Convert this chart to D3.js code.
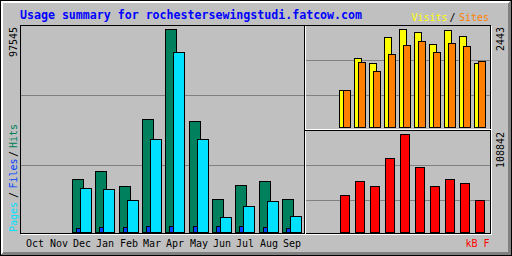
<!DOCTYPE html>
<meta charset="utf-8">
<head>
    <script type="text/javascript" src="https://cdn.jsdelivr.net/npm/d3@7/dist/d3.min.js"></script>
    <style>
        body { margin: 0; background: #c0c0c0; }
        svg { display: block; }
        text { font-family: "DejaVu Sans Mono", monospace; font-size: 10px; }
    </style>
    <title>Usage summary</title>
</head>
<body>
<script>
    // monthly data, Oct .. Sep
    var months = ["Oct", "Nov", "Dec", "Jan", "Feb", "Mar", "Apr", "May", "Jun", "Jul", "Aug", "Sep"];
    var hits   = [0, 0, 25320, 29170, 21960, 54150, 97545, 53190, 15710, 22440, 24360, 15710];
    var files  = [0, 0, 1900, 2400, 2400, 2880, 2880, 2880, 2880, 2880, 2400, 1900];
    var pages  = [0, 0, 21000, 20520, 15230, 44540, 86350, 44540, 7060, 12350, 14750, 7540];
    var visits = [0, 0, 915, 1713, 1588, 2236, 2443, 2361, 2062, 2411, 2261, 1588];
    var sites  = [0, 0, 915, 1613, 1389, 1812, 2037, 2136, 1862, 2087, 2012, 1638];
    var kbytes = [0, 0, 40760, 56310, 50760, 81850, 108842, 71860, 50760, 58530, 54090, 35210];

    var W = 512, H = 256;
    var grey = "#c0c0c0", dkgrey = "#808080";
    var hitColor = "#00805c", fileColor = "#0040ff", pageColor = "#00e0ff";
    var visitColor = "#ffff00", siteColor = "#ff8000", kbColor = "#ff0000";

    var svg = d3.select("body").append("svg")
        .attr("width", W)
        .attr("height", H)
        .attr("shape-rendering", "crispEdges");

    svg.append("rect").attr("width", W).attr("height", H).attr("fill", grey);

    function hline(x1, x2, row, color) {
        svg.append("line").attr("x1", x1).attr("x2", x2 + 1)
            .attr("y1", row + 0.5).attr("y2", row + 0.5).attr("stroke", color);
    }
    function vline(col, y1, y2, color) {
        svg.append("line").attr("x1", col + 0.5).attr("x2", col + 0.5)
            .attr("y1", y1).attr("y2", y2 + 1).attr("stroke", color);
    }

    // outer shadow border
    [1, 2].forEach(i => { hline(i, W - 1 - i, i, "white"); vline(i, i, H - 1 - i, "white"); });
    [1, 2, 3].forEach(i => { hline(i, W - 1 - i, H - 1 - i, dkgrey); vline(W - 1 - i, i, H - 1 - i, dkgrey); });
    svg.append("rect").attr("x", 0.5).attr("y", 0.5).attr("width", W - 1).attr("height", H - 1)
        .attr("fill", "none").attr("stroke", "black");

    // inner box
    hline(20, 490, 25, "black");
    vline(20, 25, 233, "black");
    hline(20, 490, 233, "black");
    vline(490, 25, 233, "black");
    hline(21, 491, 234, "white");
    vline(491, 26, 234, "white");

    // section lines
    vline(304, 25, 233, "black");
    vline(305, 26, 233, "white");
    hline(305, 490, 129, "white");
    hline(305, 490, 130, "black");

    // index lines
    var step = Math.floor(210 / 3);
    d3.range(1, 3).forEach(i => hline(21, 303, 25 + i * step, dkgrey));
    step = Math.floor(105 / 3);
    d3.range(1, 3).forEach(i => hline(306, 489, 25 + i * step, dkgrey));
    d3.range(1, 3).forEach(i => hline(306, 489, 130 + i * step, dkgrey));

    // scales
    var xL = d3.scaleBand().domain(months).range([25.67, 25.67 + 12 * 23.333]);
    var xR = d3.scaleBand().domain(months).range([309, 309 + 12 * 15]);
    var yL = d3.scaleLinear().domain([0, d3.max(hits)]).range([232, 29]);
    var yV = d3.scaleLinear().domain([0, d3.max(visits)]).range([127, 29]);
    var yK = d3.scaleLinear().domain([0, d3.max(kbytes)]).range([232, 134]);

    function bars(values, xf, offset, w, y, base, color) {
        svg.append("g").selectAll("rect")
            .data(months.map((m, i) => ({m: m, v: values[i]})).filter(d => d.v > 0))
            .enter().append("rect")
            .attr("x", d => Math.floor(xf(d.m)) + offset + 0.5)
            .attr("y", d => Math.round(y(d.v)) + 0.5)
            .attr("width", w)
            .attr("height", d => base - Math.round(y(d.v)))
            .attr("fill", color)
            .attr("stroke", "black");
    }

    bars(hits, xL, 0, 11, yL, 232, hitColor);
    bars(files, xL, 4, 11, yL, 232, fileColor);
    bars(pages, xL, 8, 11, yL, 232, pageColor);
    bars(visits, xR, 0, 7, yV, 127, visitColor);
    bars(sites, xR, 4, 7, yV, 127, siteColor);
    bars(kbytes, xR, 1, 9, yK, 232, kbColor);

    // x axis month labels
    svg.append("g").selectAll("text")
        .data(months).enter().append("text")
        .attr("x", d => Math.floor(xL(d)) + 1)
        .attr("y", 247)
        .attr("fill", "black")
        .text(d => d);

    // title
    svg.append("text")
        .attr("x", 20).attr("y", 19.3)
        .attr("fill", "#0000ff")
        .style("font-size", "11.5px").style("font-weight", "bold")
        .attr("textLength", 342).attr("lengthAdjust", "spacingAndGlyphs")
        .text("Usage summary for rochestersewingstudi.fatcow.com");

    // visits / sites legend
    svg.append("text").attr("x", 411.5).attr("y", 20.5).attr("fill", visitColor).text("Visits");
    svg.append("text").attr("x", 449.5).attr("y", 20.5).attr("fill", "black").text("/");
    svg.append("text").attr("x", 459).attr("y", 20.5).attr("fill", siteColor).text("Sites");

    // kB label
    svg.append("text").attr("x", 465.5).attr("y", 247).attr("fill", kbColor).text("kB F");

    // rotated labels
    function upText(x, y, str, color) {
        svg.append("text")
            .attr("transform", "translate(" + x + "," + y + ") rotate(-90)")
            .attr("fill", color)
            .text(str);
    }
    upText(17, 57, d3.max(hits), "black");
    upText(504, 51, d3.max(visits), "black");
    upText(504, 168, d3.max(kbytes), "black");
    upText(17, 232, "Pages", pageColor);
    upText(17, 198, "/", "black");
    upText(17, 188.5, "Files", fileColor);
    upText(17, 157, "/", "black");
    upText(17, 148, "Hits", hitColor);
</script>
</body>
